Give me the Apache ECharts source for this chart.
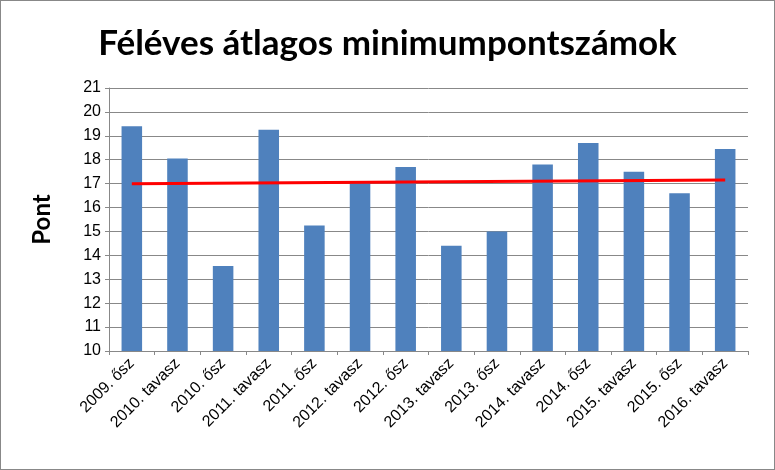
<!DOCTYPE html>
<html><head><meta charset="utf-8">
<script src="https://cdn.jsdelivr.net/npm/echarts@6/dist/echarts.min.js"></script>
<style>html,body{margin:0;padding:0;background:#fff}#c{width:773px;height:468px;border:1px solid #888}</style>
</head><body><div id="c"></div>
<script>
var categories = ["2009. ősz","2010. tavasz","2010. ősz","2011. tavasz","2011. ősz","2012. tavasz","2012. ősz","2013. tavasz","2013. ősz","2014. tavasz","2014. ősz","2015. tavasz","2015. ősz","2016. tavasz"];
var values = [19.4,18.05,13.55,19.25,15.25,17.1,17.7,14.4,15.0,17.8,18.7,17.5,16.6,18.45];
var trendStart = 17.0, trendEnd = 17.15;
var chart = echarts.init(document.getElementById('c'));
chart.setOption({
  animation:false,
  title:{text:'Féléves átlagos minimumpontszámok',left:'center',top:20,textStyle:{fontFamily:'Lato',fontSize:35,fontWeight:'bold',color:'#000'}},
  grid:{left:108,right:26,top:87,bottom:118},
  xAxis:{type:'category',data:categories,axisTick:{show:true,length:4},
    axisLine:{lineStyle:{color:'#888'}},
    axisLabel:{rotate:45,interval:0,fontFamily:'Liberation Sans',fontSize:16,color:'#000',margin:10}},
  yAxis:{type:'value',min:10,max:21,interval:1,name:'Pont',nameLocation:'middle',nameGap:55,
    nameTextStyle:{fontFamily:'Lato',fontSize:24,fontWeight:'bold',color:'#000'},
    axisLine:{show:true,lineStyle:{color:'#888'}},axisTick:{show:true,length:4},
    axisLabel:{fontFamily:'Liberation Sans',fontSize:16,color:'#000'},
    splitLine:{lineStyle:{color:'#888'}}},
  series:[{type:'bar',data:values,barWidth:'45%',itemStyle:{color:'#4F81BD'},
    markLine:{symbol:'none',silent:true,label:{show:false},lineStyle:{color:'#FF0000',width:3,type:'solid'},
      data:[[{coord:[categories[0],trendStart]},{coord:[categories[categories.length-1],trendEnd]}]]}}]
});
</script></body></html>
